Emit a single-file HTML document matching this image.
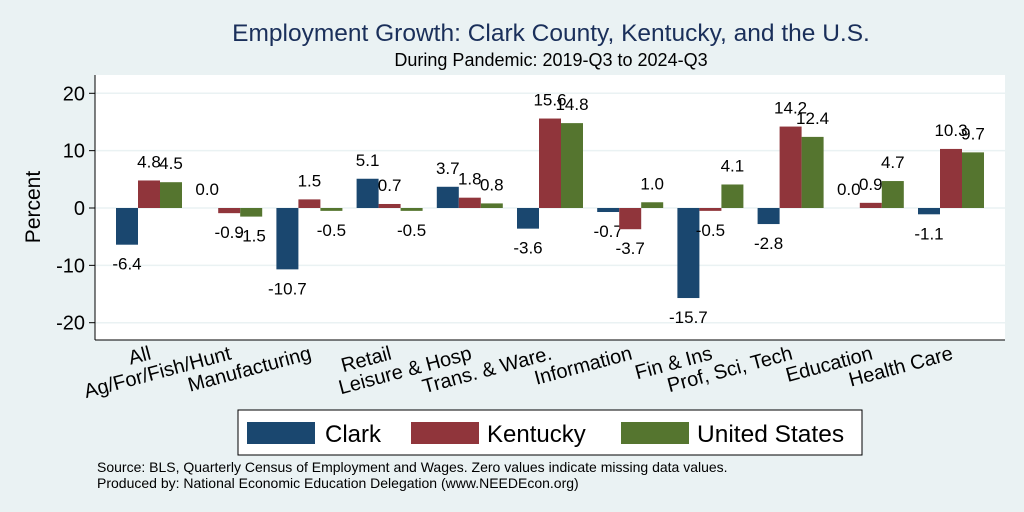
<!DOCTYPE html>
<html><head><meta charset="utf-8"><style>
body{margin:0;background:#eaf2f3;}
svg{display:block;font-family:"Liberation Sans",Arial,sans-serif;}
</style></head><body>
<svg id="c" width="1024" height="512">
<rect width="1024" height="512" fill="#eaf2f3"/>
<text x="551" y="41" font-size="24.5" fill="#1a2f5a" text-anchor="middle">Employment Growth: Clark County, Kentucky, and the U.S.</text>
<text x="551" y="66" font-size="18" fill="#000" text-anchor="middle">During Pandemic: 2019-Q3 to 2024-Q3</text>
<rect x="95" y="75" width="910" height="265" fill="#fff"/>
<g id="grid"></g>
<g id="bars"></g>
<line x1="95" y1="75" x2="95" y2="340" stroke="#000"/>
<line x1="95" y1="340" x2="1005" y2="340" stroke="#000"/>
<text transform="translate(40,207) rotate(-90)" font-size="21" text-anchor="middle">Percent</text>
<g>
<rect x="238" y="410" width="624" height="45" fill="#fff" stroke="#000" stroke-width="1"/>
<rect x="247" y="422" width="68" height="22" fill="#1a476f"/>
<text x="325" y="442" font-size="24">Clark</text>
<rect x="411" y="422" width="68" height="22" fill="#90353b"/>
<text x="487" y="442" font-size="24">Kentucky</text>
<rect x="621" y="422" width="68" height="22" fill="#55752f"/>
<text x="697" y="442" font-size="24.5">United States</text>
</g>
<text x="97" y="472" font-size="14">Source: BLS, Quarterly Census of Employment and Wages. Zero values indicate missing data values.</text>
<text x="97" y="488" font-size="14">Produced by: National Economic Education Delegation (www.NEEDEcon.org)</text>
</svg>
<script>
const categories=["All","Ag/For/Fish/Hunt","Manufacturing","Retail","Leisure & Hosp","Trans. & Ware.","Information","Fin & Ins","Prof, Sci, Tech","Education","Health Care"];
const clark=[-6.4,0.0,-10.7,5.1,3.7,-3.6,-0.7,-15.7,-2.8,0.0,-1.1];
const kentucky=[4.8,-0.9,1.5,0.7,1.8,15.6,-3.7,-0.5,14.2,0.9,10.3];
const us=[4.5,-1.5,-0.5,-0.5,0.8,14.8,1.0,4.1,12.4,4.7,9.7];
const yTicks=[-20,-10,0,10,20];
const NS="http://www.w3.org/2000/svg";
function y(v){return 208-v*5.735;}
function gx(i){return 149+i*80.2;}
function mk(t,a,p){const e=document.createElementNS(NS,t);for(const k in a)e.setAttribute(k,a[k]);p.appendChild(e);return e;}
const grid=document.getElementById('grid'),bars=document.getElementById('bars'),svg=document.getElementById('c');
yTicks.forEach(t=>{
 const l=mk('line',{x1:95,x2:1005,y1:y(t),y2:y(t),stroke:'#eaf2f3','stroke-width':1.5},grid);
 
 
 const tk=mk('line',{x1:89,x2:95,y1:y(t),y2:y(t),stroke:'#000'},grid);
 
 
 const tx=mk('text',{x:85,y:y(t)+7,'font-size':20,'text-anchor':'end'},grid);
 tx.textContent=t;
 
 
});
const series=[[clark,'#1a476f','clark'],[kentucky,'#90353b','kentucky'],[us,'#55752f','us']];
categories.forEach((c,i)=>{
 series.forEach((s,j)=>{
  const v=s[0][i],x0=gx(i)-33+j*22;
  const r=mk('rect',{x:x0,y:Math.min(y(v),y(0)),width:22,height:Math.abs(y(v)-y(0)),fill:s[1]},bars);
  
  
  const t=mk('text',{x:x0+11,y:v>=0?y(v)-13:y(v)+25,'font-size':17,'text-anchor':'middle'},bars);
  t.textContent=v.toFixed(1);
  
  
 });
 const lt=mk('text',{x:0,y:0,'font-size':20,'text-anchor':'end',transform:`translate(${gx(i)+3},${359}) rotate(-15)`},svg);
 lt.textContent=c;
 
 
});
</script>
</body></html>
